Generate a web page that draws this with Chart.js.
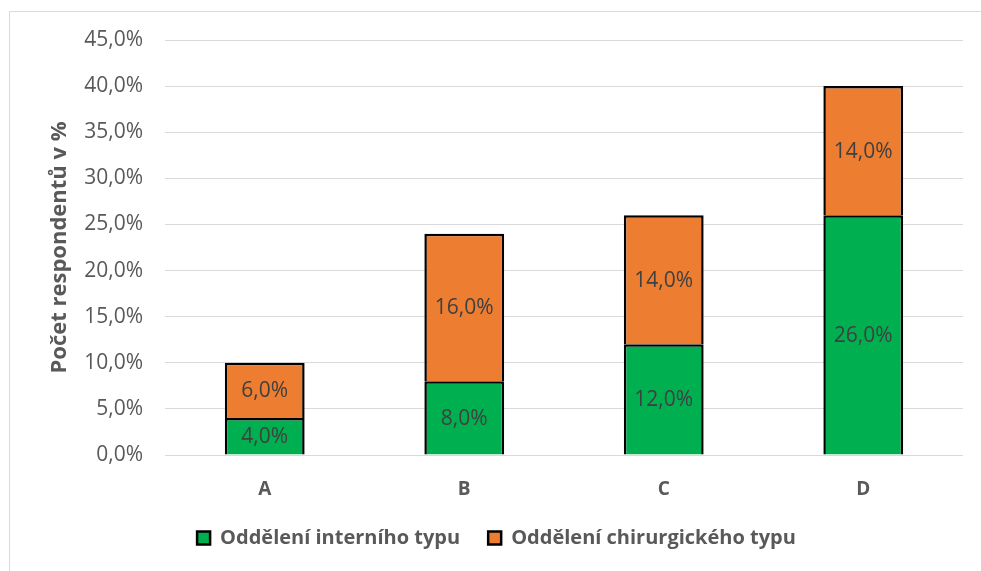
<!DOCTYPE html>
<html>
<head>
<meta charset="utf-8">
<script src="https://cdn.jsdelivr.net/npm/chart.js@4"></script>
<style>
  html, body { margin: 0; padding: 0; background: #fff; }
  #wrap { position: relative; width: 981px; height: 571px; }
</style>
</head>
<body>
<div id="wrap"><canvas id="chart" width="981" height="571"></canvas></div>
<script>
const categories = ['A', 'B', 'C', 'D'];
const internalValues = [4, 8, 12, 26];
const surgicalValues = [6, 16, 14, 14];
const seriesNames = ['Oddělení interního typu', 'Oddělení chirurgického typu'];
const seriesColors = ['#00B050', '#ED7D31'];
const yMax = 45;
const yStep = 5;
const axisTitle = 'Počet respondentů v %';

const FONT = "'Open Sans', sans-serif";
const GREY = '#595959';

const fmtPct = (v) => v.toFixed(1).replace('.', ',') + '%';

// thin frame on the left/top, white background
const framePlugin = {
    id: 'frame',
    beforeDraw(chart) {
        const ctx = chart.ctx;
        ctx.save();
        ctx.fillStyle = '#fff';
        ctx.fillRect(0, 0, chart.width, chart.height);
        ctx.strokeStyle = '#d9d9d9';
        ctx.lineWidth = 1;
        ctx.beginPath();
        ctx.moveTo(9.5, chart.height);
        ctx.lineTo(9.5, 11.5);
        ctx.lineTo(chart.width, 11.5);
        ctx.stroke();
        ctx.restore();
    }
};

// value labels in the middle of each bar segment
const valueLabels = {
    id: 'valueLabels',
    afterDatasetsDraw(chart) {
        const ctx = chart.ctx;
        ctx.save();
        ctx.font = `21px ${FONT}`;
        ctx.fillStyle = '#404040';
        ctx.textAlign = 'center';
        ctx.textBaseline = 'middle';
        chart.data.datasets.forEach((ds, i) => {
            chart.getDatasetMeta(i).data.forEach((bar, j) => {
                const p = bar.getProps(['x', 'y', 'base'], true);
                ctx.fillText(fmtPct(ds.data[j]), p.x, (p.y + p.base) / 2 + 1);
            });
        });
        ctx.restore();
    }
};

new Chart(document.getElementById('chart').getContext('2d'), {
    type: 'bar',
    data: {
        labels: categories,
        datasets: [
            {
                label: seriesNames[0],
                data: internalValues,
                backgroundColor: seriesColors[0],
                borderColor: '#000',
                borderWidth: 2.5
            },
            {
                label: seriesNames[1],
                data: surgicalValues,
                backgroundColor: seriesColors[1],
                borderColor: '#000',
                borderWidth: 2.5
            }
        ]
    },
    options: {
        responsive: false,
        animation: false,
        layout: { padding: { left: 30, right: 18, top: 40, bottom: 13 } },
        datasets: {
            bar: { categoryPercentage: 1, barPercentage: 0.4 }
        },
        scales: {
            x: {
                stacked: true,
                grid: { display: false },
                border: { display: false },
                ticks: {
                    color: GREY,
                    padding: 15,
                    font: { family: FONT, size: 19, weight: 'bold' }
                },
                afterFit: (scale) => { scale.height = 45; }
            },
            y: {
                stacked: true,
                min: 0,
                max: yMax,
                grid: { color: '#d9d9d9', lineWidth: 1, drawTicks: false },
                border: { display: false },
                ticks: {
                    stepSize: yStep,
                    color: GREY,
                    padding: 22,
                    font: { family: FONT, size: 21 },
                    callback: (v) => fmtPct(v)
                },
                title: {
                    display: true,
                    text: axisTitle,
                    color: GREY,
                    padding: { top: 17, bottom: 0 },
                    font: { family: FONT, size: 22, weight: 'bold' }
                },
                afterFit: (scale) => { scale.width = 135; }
            }
        },
        plugins: {
            legend: {
                position: 'bottom',
                labels: {
                    color: GREY,
                    boxWidth: 13,
                    boxHeight: 13,
                    padding: 28,
                    font: { family: FONT, size: 20, weight: 'bold' }
                }
            },
            tooltip: { enabled: false }
        }
    },
    plugins: [framePlugin, valueLabels]
});
</script>
</body>
</html>
